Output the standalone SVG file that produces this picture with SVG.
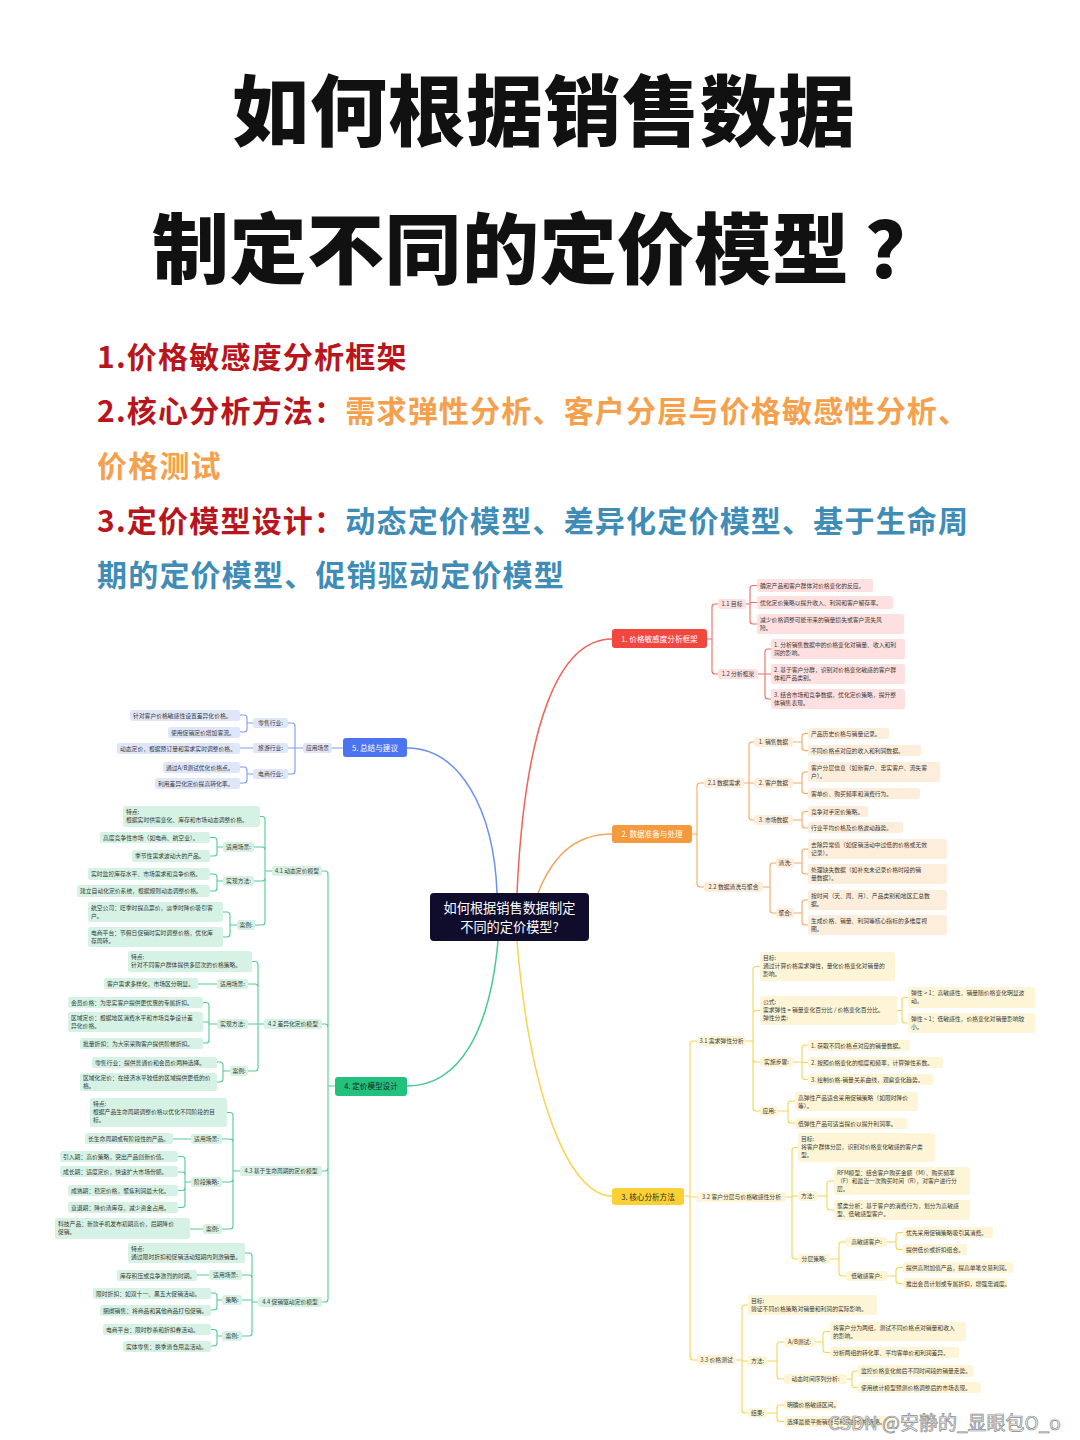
<svg xmlns="http://www.w3.org/2000/svg" width="1080" height="1440" viewBox="0 0 1080 1440">
<style>
text{font-family:"Noto Sans CJK SC","Noto Sans",sans-serif}
.title{font-size:77px;font-weight:900;fill:#111}
.sub{font-size:30px;font-weight:700;letter-spacing:1.2px}
.dr{fill:#b8161c}.or{fill:#f4a04c}.bl{fill:#3f8cb6}
.lf{font-size:5.8px;fill:#3a3a3a}
.lb{font-size:5.8px;fill:#3a3a3a;text-anchor:middle}
.mn{font-size:7.6px;text-anchor:middle}
.rb{fill:#fde0df}.ob{fill:#fdeedc}.yb{fill:#fdf5d6}.gb{fill:#d5f2e4}.bb{fill:#e0e6fa}
.c{fill:none;stroke-width:1.1;stroke-linecap:round}
.cr{stroke:#f36b63}.co{stroke:#f6a95e}.cy{stroke:#f7d352}.cg{stroke:#52cc97}.cb{stroke:#7d9bf2}
.m{fill:none;stroke-width:1.5}
</style>
<rect width="1080" height="1440" fill="#ffffff"/>
<text class="title" x="232" y="140" letter-spacing="1">如何根据销售数据</text>
<text class="title" x="152" y="278" letter-spacing="0.5">制定不同的定价模型<tspan dx="16">？</tspan></text>
<text class="sub dr" x="97" y="368">1.价格敏感度分析框架</text>
<text class="sub" x="97" y="422"><tspan class="dr">2.核心分析方法：</tspan><tspan class="or">需求弹性分析、客户分层与价格敏感性分析、</tspan></text>
<text class="sub or" x="97" y="477">价格测试</text>
<text class="sub" x="97" y="532"><tspan class="dr">3.定价模型设计：</tspan><tspan class="bl">动态定价模型、差异化定价模型、基于生命周</tspan></text>
<text class="sub bl" x="97" y="586">期的定价模型、促销驱动定价模型</text>

<g id="connectors">
<path class="m" stroke="#6f8ff0" d="M497,893 C494,810 460,748 407,748"/>
<path class="m" stroke="#f0625a" d="M517,893 C525,720 560,639 612,639"/>
<path class="m" stroke="#f5a45a" d="M538,893 C555,850 580,834 612,834"/>
<path class="m" stroke="#f8d54e" d="M517,941 C530,1100 570,1196 612,1196"/>
<path class="m" stroke="#45c98f" d="M498,941 C490,1030 460,1086 407,1086"/>
<path class="c cr" d="M707,639H712 M712,639V607Q712,604 715,604H718 M712,639V671Q712,674 715,674H718"/>
<path class="c cr" d="M746,604H750 M750,604V588.5Q750,585.5 753,585.5H757 M750,604V602.5H757 M750,604V621Q750,624 753,624H757"/>
<path class="c cr" d="M758,674H765 M765,674V652Q765,649 768,649H771 M765,674H771 M765,674V696Q765,699 768,699H771"/>
<path class="c co" d="M692,834H697 M697,834V786Q697,783 700,783H704 M697,834V884Q697,887 700,887H704"/>
<path class="c co" d="M744,783H749 M749,783V745Q749,742 752,742H754 M749,783H754 M749,783V817Q749,820 752,820H754"/>
<path class="c co" d="M793,742H802 M802,742V736.5Q802,733.5 805,733.5H808 M802,742V747.5Q802,750.5 805,750.5H808"/>
<path class="c co" d="M793,783H802 M802,783V775Q802,772 805,772H808 M802,783V790.5Q802,793.5 805,793.5H808"/>
<path class="c co" d="M793,820H802 M802,820V814.5Q802,811.5 805,811.5H808 M802,820V825Q802,828 805,828H808"/>
<path class="c co" d="M763,887H770 M770,887V866Q770,863 773,863H776 M770,887V910Q770,913 773,913H776"/>
<path class="c co" d="M794,863H802 M802,863V852Q802,849 805,849H808 M802,863V871Q802,874 805,874H808"/>
<path class="c co" d="M794,913H802 M802,913V903Q802,900 805,900H808 M802,913V922Q802,925 805,925H808"/>
<path class="c cy" d="M684,1196H690 M690,1196V1044Q690,1041 693,1041H697 M690,1196V1197H697 M690,1196V1357Q690,1360 693,1360H697"/>
<path class="c cy" d="M746,1041H753 M753,1041V969.5Q753,966.5 756,966.5H760 M753,1041V1013.5Q753,1010.5 756,1010.5H760 M753,1041V1059Q753,1062 756,1062H760 M753,1041V1108Q753,1111 756,1111H760"/>
<path class="c cy" d="M897,1010.5H902 M902,1010.5V1000.5Q902,997.5 905,997.5H908 M902,1010.5V1020Q902,1023 905,1023H908"/>
<path class="c cy" d="M793,1062H802 M802,1062V1048Q802,1045 805,1045H808 M802,1062V1062.5H808 M802,1062V1076.5Q802,1079.5 805,1079.5H808"/>
<path class="c cy" d="M778,1111H788 M788,1111V1104Q788,1101 791,1101H795 M788,1111V1120Q788,1123 791,1123H795"/>
<path class="c cy" d="M786,1197H792 M792,1197V1150.5Q792,1147.5 795,1147.5H798 M792,1197V1196H798 M792,1197V1256Q792,1259 795,1259H798"/>
<path class="c cy" d="M817,1196H827 M827,1196V1184Q827,1181 830,1181H834 M827,1196V1207Q827,1210 830,1210H834"/>
<path class="c cy" d="M830,1259H839 M839,1259V1245Q839,1242 842,1242H846 M839,1259V1273Q839,1276 842,1276H846"/>
<path class="c cy" d="M887,1242H896 M896,1242V1235.5Q896,1232.5 899,1232.5H903 M896,1242V1246.5Q896,1249.5 899,1249.5H903"/>
<path class="c cy" d="M887,1276H896 M896,1276V1270.5Q896,1267.5 899,1267.5H903 M896,1276V1280.5Q896,1283.5 899,1283.5H903"/>
<path class="c cy" d="M736,1360H742 M742,1360V1308Q742,1305 745,1305H748 M742,1360V1361H748 M742,1360V1410Q742,1413 745,1413H748"/>
<path class="c cy" d="M767,1361H777 M777,1361V1345Q777,1342 780,1342H784 M777,1361V1376Q777,1379 780,1379H784"/>
<path class="c cy" d="M815,1342H823 M823,1342V1334.5Q823,1331.5 826,1331.5H830 M823,1342V1349.5Q823,1352.5 826,1352.5H830"/>
<path class="c cy" d="M847,1379H852 M852,1379V1374Q852,1371 855,1371H858 M852,1379V1384.5Q852,1387.5 855,1387.5H858"/>
<path class="c cy" d="M767,1413H777 M777,1413V1408Q777,1405 780,1405H784 M777,1413V1418.5Q777,1421.5 780,1421.5H784"/>
<path class="c cb" d="M343,748H332"/>
<path class="c cb" d="M303,748H295 M295,748V726Q295,723 292,723H288 M295,748H288 M295,748V771Q295,774 292,774H288"/>
<path class="c cb" d="M253,723H247 M247,723V718Q247,715 244,715H240 M247,723V729Q247,732 244,732H240"/>
<path class="c cb" d="M253,748H240"/>
<path class="c cb" d="M253,774H247 M247,774V770Q247,767 244,767H240 M247,774V780Q247,783 244,783H240"/>
<path class="c cg" d="M335,1086H328 M328,1086V874Q328,871 325,871H322 M328,1086V1027Q328,1024 325,1024H322 M328,1086V1168Q328,1171 325,1171H322 M328,1086V1299Q328,1302 325,1302H322"/>
<path class="c cg" d="M272,871H265 M265,871V819.5Q265,816.5 262,816.5H260 M265,871V850Q265,847 262,847H254 M265,871V878Q265,881 262,881H254 M265,871V922Q265,925 262,925H255"/>
<path class="c cg" d="M223,847H217 M217,847V840.5Q217,837.5 214,837.5H210 M217,847V853Q217,856 214,856H210"/>
<path class="c cg" d="M223,881H217 M217,881V877Q217,874 214,874H210 M217,881V888Q217,891 214,891H210"/>
<path class="c cg" d="M237,925H230 M230,925V915Q230,912 227,912H223 M230,925V934Q230,937 227,937H223"/>
<path class="c cg" d="M264,1024H258 M258,1024V964.5Q258,961.5 255,961.5H252 M258,1024V987Q258,984 255,984H248 M258,1024H248 M258,1024V1068Q258,1071 255,1071H248"/>
<path class="c cg" d="M217,984H198"/>
<path class="c cg" d="M217,1024H209 M209,1024V1005.5Q209,1002.5 206,1002.5H203 M209,1024V1022H203 M209,1024V1040Q209,1043 206,1043H203"/>
<path class="c cg" d="M230,1071H223 M223,1071V1065Q223,1062 220,1062H217 M223,1071V1079Q223,1082 220,1082H217"/>
<path class="c cg" d="M240,1171H233 M233,1171V1115.5Q233,1112.5 230,1112.5H227 M233,1171V1142Q233,1139 230,1139H222 M233,1171V1179Q233,1182 230,1182H222 M233,1171V1226Q233,1229 230,1229H222"/>
<path class="c cg" d="M191,1139H173"/>
<path class="c cg" d="M191,1182H185 M185,1182V1159.5Q185,1156.5 182,1156.5H178 M185,1182V1175Q185,1172 182,1172H178 M185,1182V1187.5Q185,1190.5 182,1190.5H178 M185,1182V1204.5Q185,1207.5 182,1207.5H178"/>
<path class="c cg" d="M203,1229H190"/>
<path class="c cg" d="M258,1302H252 M252,1302V1256Q252,1253 249,1253H245 M252,1302V1278Q252,1275 249,1275H242 M252,1302V1300H242 M252,1302V1333Q252,1336 249,1336H242"/>
<path class="c cg" d="M209,1275H197"/>
<path class="c cg" d="M222,1300H217 M217,1300V1296Q217,1293 214,1293H211 M217,1300V1307Q217,1310 214,1310H211"/>
<path class="c cg" d="M222,1336H217 M217,1336V1332.5Q217,1329.5 214,1329.5H211 M217,1336V1343Q217,1346 214,1346H211"/>
</g>

<g id="center"><rect x="430" y="893" width="159" height="48" rx="4" fill="#0f0c2c"/><text x="509.5" y="913" font-size="13.2" fill="#ffffff" text-anchor="middle">如何根据销售数据制定</text><text x="509.5" y="932" font-size="13.2" fill="#ffffff" text-anchor="middle">不同的定价模型?</text></g>

<!-- RED -->
<g id="n1"><rect x="612" y="629" width="95" height="19" rx="3" fill="#f2473f"/><text class="mn" x="659.5" y="641.5" fill="#fff">1. 价格敏感度分析框架</text></g>
<g id="n1-1"><rect class="rb" x="718" y="599" width="28" height="10" rx="2.5"/><text class="lb" x="732" y="606">1.1 目标</text></g>
<g id="n1-1-a"><rect class="rb" x="757" y="579" width="116" height="13" rx="2.5"/><text class="lf" x="760" y="587.5">确定产品和客户群体对价格变化的反应。</text></g>
<g id="n1-1-b"><rect class="rb" x="757" y="596" width="136" height="13" rx="2.5"/><text class="lf" x="760" y="604.5">优化定价策略以提升收入、利润和客户留存率。</text></g>
<g id="n1-1-c"><rect class="rb" x="757" y="614" width="147" height="20" rx="2.5"/><text class="lf" x="760" y="621.5">减少价格调整可能带来的销量损失或客户流失风</text><text class="lf" x="760" y="629.8">险。</text></g>
<g id="n1-2"><rect class="rb" x="718" y="669" width="40" height="10" rx="2.5"/><text class="lb" x="738" y="676">1.2 分析框架</text></g>
<g id="n1-2-a"><rect class="rb" x="771" y="639" width="134" height="20" rx="2.5"/><text class="lf" x="774" y="646.5">1. 分析销售数据中的价格变化对销量、收入和利</text><text class="lf" x="774" y="654.8">润的影响。</text></g>
<g id="n1-2-b"><rect class="rb" x="771" y="664" width="134" height="20" rx="2.5"/><text class="lf" x="774" y="671.5">2. 基于客户分群，识别对价格变化敏感的客户群</text><text class="lf" x="774" y="679.8">体和产品类别。</text></g>
<g id="n1-2-c"><rect class="rb" x="771" y="689" width="134" height="20" rx="2.5"/><text class="lf" x="774" y="696.5">3. 结合市场和竞争数据，优化定价策略，提升整</text><text class="lf" x="774" y="704.8">体销售表现。</text></g>

<!-- ORANGE -->
<g id="n2"><rect x="612" y="825" width="80" height="18" rx="3" fill="#f59a3f"/><text class="mn" x="652" y="837" fill="#fff">2. 数据准备与处理</text></g>
<g id="n2-1"><rect class="ob" x="704" y="778" width="40" height="10" rx="2.5"/><text class="lb" x="724" y="785">2.1 数据需求</text></g>
<g id="n2-1-1"><rect class="ob" x="754" y="737" width="39" height="10" rx="2.5"/><text class="lb" x="773.5" y="744">1. 销售数据</text></g>
<g id="n2-1-1a"><rect class="ob" x="808" y="728" width="81" height="11" rx="2.5"/><text class="lf" x="811" y="735.5">产品历史价格与销量记录。</text></g>
<g id="n2-1-1b"><rect class="ob" x="808" y="745" width="113" height="11" rx="2.5"/><text class="lf" x="811" y="752.5">不同价格点对应的收入和利润数据。</text></g>
<g id="n2-1-2"><rect class="ob" x="754" y="778" width="39" height="10" rx="2.5"/><text class="lb" x="773.5" y="785">2. 客户数据</text></g>
<g id="n2-1-2a"><rect class="ob" x="808" y="762" width="132" height="20" rx="2.5"/><text class="lf" x="811" y="769.5">客户分层信息（如新客户、忠实客户、流失客</text><text class="lf" x="811" y="777.8">户）。</text></g>
<g id="n2-1-2b"><rect class="ob" x="808" y="788" width="112" height="11" rx="2.5"/><text class="lf" x="811" y="795.5">客单价、购买频率和消费行为。</text></g>
<g id="n2-1-3"><rect class="ob" x="754" y="815" width="39" height="10" rx="2.5"/><text class="lb" x="773.5" y="822">3. 市场数据</text></g>
<g id="n2-1-3a"><rect class="ob" x="808" y="806" width="60" height="11" rx="2.5"/><text class="lf" x="811" y="813.5">竞争对手定价策略。</text></g>
<g id="n2-1-3b"><rect class="ob" x="808" y="822" width="95" height="11" rx="2.5"/><text class="lf" x="811" y="829.5">行业平均价格及价格波动趋势。</text></g>
<g id="n2-2"><rect class="ob" x="704" y="882" width="59" height="10" rx="2.5"/><text class="lb" x="733.5" y="889">2.2 数据清洗与聚合</text></g>
<g id="n2-2-1"><rect class="ob" x="776" y="858" width="18" height="10" rx="2.5"/><text class="lb" x="785" y="865">清洗:</text></g>
<g id="n2-2-1a"><rect class="ob" x="808" y="839" width="139" height="20" rx="2.5"/><text class="lf" x="811" y="846.5">去除异常值（如促销活动中过低的价格或无效</text><text class="lf" x="811" y="854.8">记录）。</text></g>
<g id="n2-2-1b"><rect class="ob" x="808" y="864" width="139" height="20" rx="2.5"/><text class="lf" x="811" y="871.5">处理缺失数据（如补充未记录价格时段的销</text><text class="lf" x="811" y="879.8">量数据）。</text></g>
<g id="n2-2-2"><rect class="ob" x="776" y="908" width="18" height="10" rx="2.5"/><text class="lb" x="785" y="915">聚合:</text></g>
<g id="n2-2-2a"><rect class="ob" x="808" y="890" width="139" height="20" rx="2.5"/><text class="lf" x="811" y="897.5">按时间（天、周、月）、产品类别和地区汇总数</text><text class="lf" x="811" y="905.8">据。</text></g>
<g id="n2-2-2b"><rect class="ob" x="808" y="915" width="139" height="20" rx="2.5"/><text class="lf" x="811" y="922.5">生成价格、销量、利润等核心指标的多维度视</text><text class="lf" x="811" y="930.8">图。</text></g>

<!-- YELLOW -->
<g id="n3"><rect x="612" y="1188" width="72" height="17" rx="3" fill="#fbd035"/><text class="mn" x="648" y="1199.5" fill="#2a2a2a">3. 核心分析方法</text></g>
<g id="n3-1"><rect class="yb" x="697" y="1036" width="49" height="10" rx="2.5"/><text class="lb" x="721.5" y="1043">3.1 需求弹性分析</text></g>
<g id="n3-1-1"><rect class="yb" x="760" y="952" width="135" height="29" rx="2.5"/><text class="lf" x="763" y="959.5">目标:</text><text class="lf" x="763" y="967.8">通过计算价格需求弹性，量化价格变化对销量的</text><text class="lf" x="763" y="976.1">影响。</text></g>
<g id="n3-1-2"><rect class="yb" x="760" y="996" width="137" height="29" rx="2.5"/><text class="lf" x="763" y="1003.5">公式:</text><text class="lf" x="763" y="1011.8">需求弹性 = 销量变化百分比 / 价格变化百分比。</text><text class="lf" x="763" y="1020.1">弹性分类:</text></g>
<g id="n3-1-2a"><rect class="yb" x="908" y="987" width="127" height="21" rx="2.5"/><text class="lf" x="911" y="994.5">弹性 &gt; 1：高敏感性，销量随价格变化明显波</text><text class="lf" x="911" y="1002.8">动。</text></g>
<g id="n3-1-2b"><rect class="yb" x="908" y="1013" width="127" height="20" rx="2.5"/><text class="lf" x="911" y="1020.5">弹性 &lt; 1：低敏感性，价格变化对销量影响较</text><text class="lf" x="911" y="1028.8">小。</text></g>
<g id="n3-1-3"><rect class="yb" x="760" y="1057" width="33" height="10" rx="2.5"/><text class="lb" x="776.5" y="1064">实施步骤:</text></g>
<g id="n3-1-3a"><rect class="yb" x="808" y="1040" width="102" height="11" rx="2.5"/><text class="lf" x="811" y="1047.5">1. 获取不同价格点对应的销量数据。</text></g>
<g id="n3-1-3b"><rect class="yb" x="808" y="1057" width="135" height="11" rx="2.5"/><text class="lf" x="811" y="1064.5">2. 按照价格变化的幅度和频率，计算弹性系数。</text></g>
<g id="n3-1-3c"><rect class="yb" x="808" y="1074" width="125" height="11" rx="2.5"/><text class="lf" x="811" y="1081.5">3. 绘制价格-销量关系曲线，观察变化趋势。</text></g>
<g id="n3-1-4"><rect class="yb" x="760" y="1106" width="18" height="10" rx="2.5"/><text class="lb" x="769" y="1113">应用:</text></g>
<g id="n3-1-4a"><rect class="yb" x="795" y="1092" width="123" height="19" rx="2.5"/><text class="lf" x="798" y="1099.5">高弹性产品适合采用促销策略（如限时降价</text><text class="lf" x="798" y="1107.8">等）。</text></g>
<g id="n3-1-4b"><rect class="yb" x="795" y="1118" width="112" height="11" rx="2.5"/><text class="lf" x="798" y="1125.5">低弹性产品可适当提价以提升利润率。</text></g>
<g id="n3-2"><rect class="yb" x="697" y="1192" width="89" height="10" rx="2.5"/><text class="lb" x="741.5" y="1199">3.2 客户分层与价格敏感性分析</text></g>
<g id="n3-2-1"><rect class="yb" x="798" y="1133" width="137" height="29" rx="2.5"/><text class="lf" x="801" y="1140.5">目标:</text><text class="lf" x="801" y="1148.8">将客户群体分层，识别对价格变化敏感的客户类</text><text class="lf" x="801" y="1157.1">型。</text></g>
<g id="n3-2-2"><rect class="yb" x="798" y="1191" width="19" height="10" rx="2.5"/><text class="lb" x="807.5" y="1198">方法:</text></g>
<g id="n3-2-2a"><rect class="yb" x="834" y="1167" width="136" height="28" rx="2.5"/><text class="lf" x="837" y="1174.5">RFM模型：结合客户购买金额（M）、购买频率</text><text class="lf" x="837" y="1182.8">（F）和最近一次购买时间（R），对客户进行分</text><text class="lf" x="837" y="1191.1">层。</text></g>
<g id="n3-2-2b"><rect class="yb" x="834" y="1200" width="136" height="20" rx="2.5"/><text class="lf" x="837" y="1207.5">聚类分析：基于客户的消费行为，划分为高敏感</text><text class="lf" x="837" y="1215.8">型、低敏感型客户。</text></g>
<g id="n3-2-3"><rect class="yb" x="798" y="1254" width="32" height="10" rx="2.5"/><text class="lb" x="814" y="1261">分层策略:</text></g>
<g id="n3-2-3a"><rect class="yb" x="846" y="1237" width="41" height="10" rx="2.5"/><text class="lb" x="866.5" y="1244">高敏感客户:</text></g>
<g id="n3-2-3a1"><rect class="yb" x="903" y="1227" width="90" height="11" rx="2.5"/><text class="lf" x="906" y="1234.5">优先采用促销策略吸引其消费。</text></g>
<g id="n3-2-3a2"><rect class="yb" x="903" y="1244" width="64" height="11" rx="2.5"/><text class="lf" x="906" y="1251.5">提供低价或折扣组合。</text></g>
<g id="n3-2-3b"><rect class="yb" x="846" y="1271" width="41" height="10" rx="2.5"/><text class="lb" x="866.5" y="1278">低敏感客户:</text></g>
<g id="n3-2-3b1"><rect class="yb" x="903" y="1262" width="110" height="11" rx="2.5"/><text class="lf" x="906" y="1269.5">提供高附加值产品，提高单笔交易利润。</text></g>
<g id="n3-2-3b2"><rect class="yb" x="903" y="1278" width="104" height="11" rx="2.5"/><text class="lf" x="906" y="1285.5">推出会员计划或专属折扣，增强忠诚度。</text></g>
<g id="n3-3"><rect class="yb" x="697" y="1355" width="39" height="10" rx="2.5"/><text class="lb" x="716.5" y="1362">3.3 价格测试</text></g>
<g id="n3-3-1"><rect class="yb" x="748" y="1295" width="129" height="20" rx="2.5"/><text class="lf" x="751" y="1302.5">目标:</text><text class="lf" x="751" y="1310.8">验证不同价格策略对销量和利润的实际影响。</text></g>
<g id="n3-3-2"><rect class="yb" x="748" y="1356" width="19" height="10" rx="2.5"/><text class="lb" x="757.5" y="1363">方法:</text></g>
<g id="n3-3-2a"><rect class="yb" x="784" y="1337" width="31" height="10" rx="2.5"/><text class="lb" x="799.5" y="1344">A/B测试:</text></g>
<g id="n3-3-2a1"><rect class="yb" x="830" y="1322" width="136" height="19" rx="2.5"/><text class="lf" x="833" y="1329.5">将客户分为两组，测试不同价格点对销量和收入</text><text class="lf" x="833" y="1337.8">的影响。</text></g>
<g id="n3-3-2a2"><rect class="yb" x="830" y="1347" width="129" height="11" rx="2.5"/><text class="lf" x="833" y="1354.5">分析两组的转化率、平均客单价和利润差异。</text></g>
<g id="n3-3-2b"><rect class="yb" x="784" y="1374" width="63" height="10" rx="2.5"/><text class="lb" x="815.5" y="1381">动态时间序列分析:</text></g>
<g id="n3-3-2b1"><rect class="yb" x="858" y="1365" width="115" height="12" rx="2.5"/><text class="lf" x="861" y="1373">监控价格变化前后不同时间段的销量走势。</text></g>
<g id="n3-3-2b2"><rect class="yb" x="858" y="1382" width="123" height="11" rx="2.5"/><text class="lf" x="861" y="1389.5">使用统计模型预测价格调整后的市场表现。</text></g>
<g id="n3-3-3"><rect class="yb" x="748" y="1408" width="19" height="10" rx="2.5"/><text class="lb" x="757.5" y="1415">结果:</text></g>
<g id="n3-3-3a"><rect class="yb" x="784" y="1400" width="53" height="10" rx="2.5"/><text class="lf" x="787" y="1407">明确价格敏感区间。</text></g>
<g id="n3-3-3b"><rect class="yb" x="784" y="1416" width="109" height="11" rx="2.5"/><text class="lf" x="787" y="1423.5">选择最能平衡销量与利润的价格策略。</text></g>

<!-- BLUE -->
<g id="n5"><rect x="343" y="738" width="64" height="19" rx="3" fill="#4d74f0"/><text class="mn" x="375" y="750.5" fill="#fff">5. 总结与建议</text></g>
<g id="n5-1"><rect class="bb" x="303" y="743" width="29" height="10" rx="2.5"/><text class="lb" x="317.5" y="750">应用场景</text></g>
<g id="n5-1-1"><rect class="bb" x="253" y="718" width="35" height="10" rx="2.5"/><text class="lb" x="270.5" y="725">零售行业:</text></g>
<g id="n5-1-1a"><rect class="bb" x="130" y="710" width="110" height="11" rx="2.5"/><text class="lf" x="133" y="717.5">针对客户价格敏感性设置差异化价格。</text></g>
<g id="n5-1-1b"><rect class="bb" x="168" y="727" width="72" height="11" rx="2.5"/><text class="lf" x="171" y="734.5">使用促销定价增加客流。</text></g>
<g id="n5-1-2"><rect class="bb" x="253" y="743" width="35" height="10" rx="2.5"/><text class="lb" x="270.5" y="750">旅游行业:</text></g>
<g id="n5-1-2a"><rect class="bb" x="117" y="743" width="123" height="11" rx="2.5"/><text class="lf" x="120" y="750.5">动态定价，根据预订量和需求实时调整价格。</text></g>
<g id="n5-1-3"><rect class="bb" x="253" y="769" width="35" height="10" rx="2.5"/><text class="lb" x="270.5" y="776">电商行业:</text></g>
<g id="n5-1-3a"><rect class="bb" x="163" y="762" width="77" height="11" rx="2.5"/><text class="lf" x="166" y="769.5">通过A/B测试优化价格点。</text></g>
<g id="n5-1-3b"><rect class="bb" x="155" y="778" width="85" height="11" rx="2.5"/><text class="lf" x="158" y="785.5">利用差异化定价提高转化率。</text></g>

<!-- GREEN -->
<g id="n4"><rect x="335" y="1077" width="72" height="19" rx="3" fill="#22c17e"/><text class="mn" x="371" y="1089" fill="#1f1f1f">4. 定价模型设计</text></g>
<g id="n4-1"><rect class="gb" x="272" y="866" width="50" height="10" rx="2.5"/><text class="lb" x="297" y="873">4.1 动态定价模型</text></g>
<g id="n4-1-1"><rect class="gb" x="123" y="806" width="137" height="21" rx="2.5"/><text class="lf" x="126" y="813.5">特点:</text><text class="lf" x="126" y="821.8">根据实时供需变化、库存和市场动态调整价格。</text></g>
<g id="n4-1-2"><rect class="gb" x="223" y="842" width="31" height="10" rx="2.5"/><text class="lb" x="238.5" y="849">适用场景:</text></g>
<g id="n4-1-2a"><rect class="gb" x="100" y="832" width="110" height="11" rx="2.5"/><text class="lf" x="103" y="839.5">高度竞争性市场（如电商、航空业）。</text></g>
<g id="n4-1-2b"><rect class="gb" x="132" y="850" width="78" height="12" rx="2.5"/><text class="lf" x="135" y="858">季节性需求波动大的产品。</text></g>
<g id="n4-1-3"><rect class="gb" x="223" y="876" width="31" height="10" rx="2.5"/><text class="lb" x="238.5" y="883">实现方法:</text></g>
<g id="n4-1-3a"><rect class="gb" x="88" y="868" width="122" height="12" rx="2.5"/><text class="lf" x="91" y="876">实时监控库存水平、市场需求和竞争价格。</text></g>
<g id="n4-1-3b"><rect class="gb" x="77" y="885" width="133" height="12" rx="2.5"/><text class="lf" x="80" y="893">建立自动化定价系统，根据规则动态调整价格。</text></g>
<g id="n4-1-4"><rect class="gb" x="237" y="920" width="18" height="10" rx="2.5"/><text class="lb" x="246" y="927">案例:</text></g>
<g id="n4-1-4a"><rect class="gb" x="88" y="902" width="135" height="20" rx="2.5"/><text class="lf" x="91" y="909.5">航空公司：旺季时提高票价，淡季时降价吸引客</text><text class="lf" x="91" y="917.8">户。</text></g>
<g id="n4-1-4b"><rect class="gb" x="88" y="927" width="135" height="20" rx="2.5"/><text class="lf" x="91" y="934.5">电商平台：节假日促销时实时调整价格，优化库</text><text class="lf" x="91" y="942.8">存周转。</text></g>
<g id="n4-2"><rect class="gb" x="264" y="1019" width="58" height="10" rx="2.5"/><text class="lb" x="293" y="1026">4.2 差异化定价模型</text></g>
<g id="n4-2-1"><rect class="gb" x="128" y="951" width="124" height="21" rx="2.5"/><text class="lf" x="131" y="958.5">特点:</text><text class="lf" x="131" y="966.8">针对不同客户群体提供多层次的价格策略。</text></g>
<g id="n4-2-2"><rect class="gb" x="217" y="979" width="31" height="10" rx="2.5"/><text class="lb" x="232.5" y="986">适用场景:</text></g>
<g id="n4-2-2a"><rect class="gb" x="104" y="978" width="94" height="11" rx="2.5"/><text class="lf" x="107" y="985.5">客户需求多样化，市场区分明显。</text></g>
<g id="n4-2-3"><rect class="gb" x="217" y="1019" width="31" height="10" rx="2.5"/><text class="lb" x="232.5" y="1026">实现方法:</text></g>
<g id="n4-2-3a"><rect class="gb" x="68" y="997" width="135" height="11" rx="2.5"/><text class="lf" x="71" y="1004.5">会员价格：为忠实客户提供更优惠的专属折扣。</text></g>
<g id="n4-2-3b"><rect class="gb" x="68" y="1012" width="135" height="20" rx="2.5"/><text class="lf" x="71" y="1019.5">区域定价：根据地区消费水平和市场竞争设计差</text><text class="lf" x="71" y="1027.8">异化价格。</text></g>
<g id="n4-2-3c"><rect class="gb" x="80" y="1038" width="123" height="11" rx="2.5"/><text class="lf" x="83" y="1045.5">批量折扣：为大宗采购客户提供阶梯折扣。</text></g>
<g id="n4-2-4"><rect class="gb" x="230" y="1066" width="18" height="10" rx="2.5"/><text class="lb" x="239" y="1073">案例:</text></g>
<g id="n4-2-4a"><rect class="gb" x="92" y="1057" width="125" height="11" rx="2.5"/><text class="lf" x="95" y="1064.5">零售行业：提供普通价和会员价两种选择。</text></g>
<g id="n4-2-4b"><rect class="gb" x="80" y="1073" width="137" height="18" rx="2.5"/><text class="lf" x="83" y="1080">区域化定价：在经济水平较低的区域提供更低的价</text><text class="lf" x="83" y="1088">格。</text></g>
<g id="n4-3"><rect class="gb" x="240" y="1166" width="82" height="10" rx="2.5"/><text class="lb" x="281" y="1173">4.3 基于生命周期的定价模型</text></g>
<g id="n4-3-1"><rect class="gb" x="90" y="1098" width="137" height="29" rx="2.5"/><text class="lf" x="93" y="1105.5">特点:</text><text class="lf" x="93" y="1113.8">根据产品生命周期调整价格以优化不同阶段的目</text><text class="lf" x="93" y="1122.1">标。</text></g>
<g id="n4-3-2"><rect class="gb" x="191" y="1134" width="31" height="10" rx="2.5"/><text class="lb" x="206.5" y="1141">适用场景:</text></g>
<g id="n4-3-2a"><rect class="gb" x="85" y="1133" width="88" height="11" rx="2.5"/><text class="lf" x="88" y="1140.5">长生命周期或有阶段性的产品。</text></g>
<g id="n4-3-3"><rect class="gb" x="191" y="1177" width="31" height="10" rx="2.5"/><text class="lb" x="206.5" y="1184">阶段策略:</text></g>
<g id="n4-3-3a"><rect class="gb" x="60" y="1151" width="118" height="11" rx="2.5"/><text class="lf" x="63" y="1158.5">引入期：高价策略，突出产品创新价值。</text></g>
<g id="n4-3-3b"><rect class="gb" x="60" y="1166" width="118" height="11" rx="2.5"/><text class="lf" x="63" y="1173.5">成长期：适度定价，快速扩大市场份额。</text></g>
<g id="n4-3-3c"><rect class="gb" x="68" y="1185" width="110" height="11" rx="2.5"/><text class="lf" x="71" y="1192.5">成熟期：稳定价格，聚焦利润最大化。</text></g>
<g id="n4-3-3d"><rect class="gb" x="68" y="1202" width="110" height="11" rx="2.5"/><text class="lf" x="71" y="1209.5">衰退期：降价清库存，减少资金占用。</text></g>
<g id="n4-3-4"><rect class="gb" x="203" y="1224" width="19" height="10" rx="2.5"/><text class="lb" x="212.5" y="1231">案例:</text></g>
<g id="n4-3-4a"><rect class="gb" x="55" y="1218" width="135" height="21" rx="2.5"/><text class="lf" x="58" y="1225.5">科技产品：新款手机发布初期高价，后期降价</text><text class="lf" x="58" y="1233.8">促销。</text></g>
<g id="n4-4"><rect class="gb" x="258" y="1297" width="64" height="10" rx="2.5"/><text class="lb" x="290" y="1304">4.4 促销驱动定价模型</text></g>
<g id="n4-4-1"><rect class="gb" x="128" y="1243" width="117" height="20" rx="2.5"/><text class="lf" x="131" y="1250.5">特点:</text><text class="lf" x="131" y="1258.8">通过限时折扣和促销活动短期内刺激销量。</text></g>
<g id="n4-4-2"><rect class="gb" x="209" y="1270" width="33" height="10" rx="2.5"/><text class="lb" x="225.5" y="1277">适用场景:</text></g>
<g id="n4-4-2a"><rect class="gb" x="117" y="1270" width="80" height="11" rx="2.5"/><text class="lf" x="120" y="1277.5">库存积压或竞争激烈的时期。</text></g>
<g id="n4-4-3"><rect class="gb" x="222" y="1295" width="20" height="10" rx="2.5"/><text class="lb" x="232" y="1302">策略:</text></g>
<g id="n4-4-3a"><rect class="gb" x="93" y="1288" width="118" height="11" rx="2.5"/><text class="lf" x="96" y="1295.5">限时折扣：如双十一、黑五大促销活动。</text></g>
<g id="n4-4-3b"><rect class="gb" x="100" y="1305" width="111" height="11" rx="2.5"/><text class="lf" x="103" y="1312.5">捆绑销售：将商品和其他商品打包促销。</text></g>
<g id="n4-4-4"><rect class="gb" x="222" y="1331" width="20" height="10" rx="2.5"/><text class="lb" x="232" y="1338">案例:</text></g>
<g id="n4-4-4a"><rect class="gb" x="103" y="1324" width="108" height="11" rx="2.5"/><text class="lf" x="106" y="1331.5">电商平台：限时秒杀和折扣券活动。</text></g>
<g id="n4-4-4b"><rect class="gb" x="123" y="1341" width="88" height="11" rx="2.5"/><text class="lf" x="126" y="1348.5">实体零售：换季清仓甩卖活动。</text></g>

<text x="828" y="1430" font-size="19" fill="#f2f2f2" stroke="#8a8a8a" stroke-width="0.7">CSDN @安静的_显眼包O_o</text>
</svg>
